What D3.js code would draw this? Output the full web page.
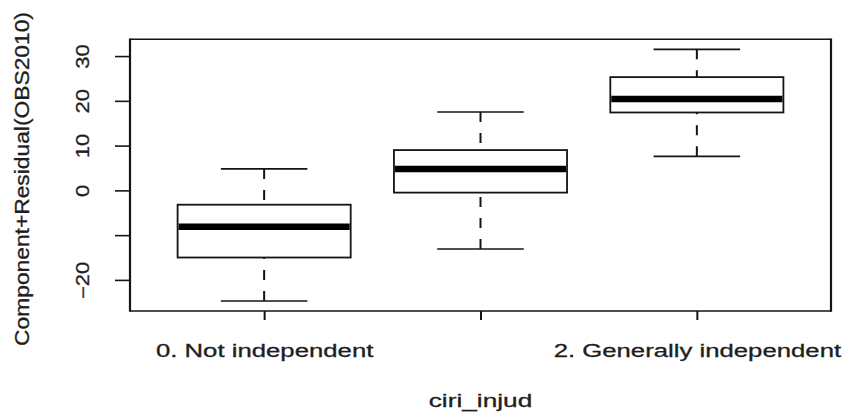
<!DOCTYPE html>
<html>
<head>
<meta charset="utf-8">
<script src="https://cdn.jsdelivr.net/npm/d3@7"></script>
<style>
  html, body { margin: 0; padding: 0; background: #fff; }
  svg { display: block; }
  text { font-family: "Liberation Sans", Arial, sans-serif; fill: #1e1e1e; stroke: #1e1e1e; stroke-width: 0.3px; }
</style>
</head>
<body>
<svg id="chart" width="842" height="412"></svg>
<script>
// Component + residual plot of OBS2010 against judicial independence (ciri_injud)
const categories  = ["0. Not independent", "1. Partially independent", "2. Generally independent"];
const whiskerLow  = [-24.7, -13.1,  7.6];
const q1          = [-15.0,  -0.5, 17.4];
const median      = [ -8.1,   4.8, 20.4];
const q3          = [ -3.2,   9.0, 25.3];
const whiskerHigh = [  4.8,  17.5, 31.5];
const yTicks      = [-20, -10, 0, 10, 20, 30];
const xTitle = "ciri_injud";
const yTitle = "Component+Residual(OBS2010)";

const W = 842, H = 412;
const plot = { left: 130, right: 831, top: 39.3, bottom: 311 };
const ink = "#141414";

const svg = d3.select("#chart");

// y range padded by 4% on each side of the whisker extent
const lo = d3.min(whiskerLow), hi = d3.max(whiskerHigh), pad = (hi - lo) * 0.04;
const y = d3.scaleLinear().domain([lo - pad, hi + pad]).range([plot.bottom, plot.top]);

// group positions 1..n, with 0.5 margin plus 4% padding
const n = categories.length;
const xr = n, xpad = xr * 0.04;
const x = d3.scaleLinear().domain([0.5 - xpad, n + 0.5 + xpad]).range([plot.left, plot.right]);

const boxW = 0.8, capW = 0.4;
const groups = categories.map((c, i) => ({
  name: c, pos: i + 1,
  lo: whiskerLow[i], q1: q1[i], med: median[i], q3: q3[i], hi: whiskerHigh[i]
}));

const g = svg.append("g");

// whiskers (dashed, drawn from the end toward the box)
g.selectAll(".wlo").data(groups).join("line")
  .attr("x1", d => x(d.pos)).attr("x2", d => x(d.pos))
  .attr("y1", d => y(d.lo)).attr("y2", d => y(d.q1))
  .attr("stroke", ink).attr("stroke-width", 2).attr("stroke-dasharray", "10,11");
g.selectAll(".whi").data(groups).join("line")
  .attr("x1", d => x(d.pos)).attr("x2", d => x(d.pos))
  .attr("y1", d => y(d.hi)).attr("y2", d => y(d.q3))
  .attr("stroke", ink).attr("stroke-width", 2).attr("stroke-dasharray", "10,11");

// staples
["lo", "hi"].forEach(k => {
  g.selectAll(".cap-" + k).data(groups).join("line")
    .attr("x1", d => x(d.pos - capW / 2)).attr("x2", d => x(d.pos + capW / 2))
    .attr("y1", d => y(d[k])).attr("y2", d => y(d[k]))
    .attr("stroke", ink).attr("stroke-width", 1.6);
});

// boxes
g.selectAll(".box").data(groups).join("rect")
  .attr("x", d => x(d.pos - boxW / 2))
  .attr("width", d => x(d.pos + boxW / 2) - x(d.pos - boxW / 2))
  .attr("y", d => y(d.q3))
  .attr("height", d => y(d.q1) - y(d.q3))
  .attr("fill", "#fff").attr("stroke", ink).attr("stroke-width", 1.8);

// medians
g.selectAll(".med").data(groups).join("line")
  .attr("x1", d => x(d.pos - boxW / 2) + 1).attr("x2", d => x(d.pos + boxW / 2) - 1)
  .attr("y1", d => y(d.med)).attr("y2", d => y(d.med))
  .attr("stroke", "#000").attr("stroke-width", 6.5);

// plot frame
const fr = svg.append("g").attr("stroke", ink);
fr.append("line").attr("x1", plot.left).attr("x2", plot.right).attr("y1", plot.top).attr("y2", plot.top).attr("stroke-width", 1.6);
fr.append("line").attr("x1", plot.left).attr("x2", plot.right).attr("y1", plot.bottom).attr("y2", plot.bottom).attr("stroke-width", 1.6);
fr.append("line").attr("x1", plot.left).attr("x2", plot.left).attr("y1", plot.top - 0.8).attr("y2", plot.bottom + 0.8).attr("stroke-width", 2.2);
fr.append("line").attr("x1", plot.right).attr("x2", plot.right).attr("y1", plot.top - 0.8).attr("y2", plot.bottom + 0.8).attr("stroke-width", 2.2);

// x axis
const xAxis = svg.append("g")
  .attr("transform", `translate(0,${plot.bottom})`)
  .call(d3.axisBottom(x).tickValues(groups.map(d => d.pos)).tickSize(9).tickFormat(v => categories[v - 1]));
xAxis.select(".domain").remove();
xAxis.selectAll(".tick line").attr("stroke", ink).attr("stroke-width", 2);
xAxis.selectAll(".tick text")
  .attr("y", null).attr("dy", null)
  .attr("text-anchor", "middle")
  .attr("transform", "translate(0,45.5) scale(1.47,1)")
  .style("font-size", "17.5px").attr("fill", "#1e1e1e");

// y axis
const yAxis = svg.append("g")
  .attr("transform", `translate(${plot.left},0)`)
  .call(d3.axisLeft(y).tickValues(yTicks).tickSize(15).tickFormat(d3.format("")));
yAxis.select(".domain").remove();
yAxis.selectAll(".tick line").attr("stroke", ink).attr("stroke-width", 1.6);
yAxis.selectAll(".tick text")
  .attr("x", null).attr("dy", null)
  .attr("text-anchor", "middle")
  .attr("transform", "translate(-41,0) rotate(-90) scale(1.22,1)")
  .style("font-size", "18px").attr("fill", "#1e1e1e");

// drop tick labels that would collide with the previously kept one
function thinLabels(sel, horizontal, gap) {
  let prev = null;
  sel.each(function () {
    const r = this.getBoundingClientRect();
    if (prev) {
      const clash = horizontal ? (r.left < prev.right + gap) : (r.bottom > prev.top - gap);
      if (clash) { d3.select(this).remove(); return; }
    }
    prev = r;
  });
}
thinLabels(xAxis.selectAll(".tick text"), true, 12);
thinLabels(yAxis.selectAll(".tick text"), false, 12);

// axis titles
svg.append("text")
  .attr("text-anchor", "middle")
  .attr("transform", `translate(${(plot.left + plot.right) / 2},407) scale(1.5,1)`)
  .style("font-size", "17.5px")
  .text(xTitle);

svg.append("text")
  .attr("text-anchor", "middle")
  .attr("transform", `translate(29,179) rotate(-90) scale(1.14,1)`)
  .style("font-size", "20px")
  .text(yTitle);
</script>
</body>
</html>
